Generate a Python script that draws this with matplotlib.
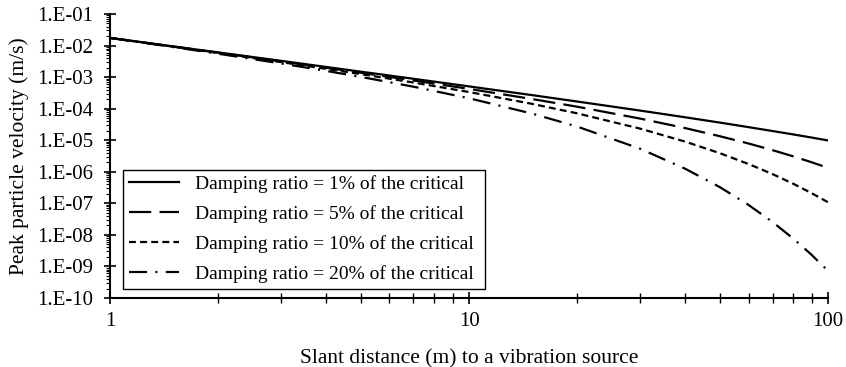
import numpy as np
import matplotlib
matplotlib.use("Agg")
from matplotlib import pyplot as plt
from matplotlib.ticker import FixedLocator, LogLocator, NullFormatter

plt.rcParams['font.family'] = ['Liberation Serif', 'DejaVu Serif']
plt.rcParams['lines.scale_dashes'] = False

# slant distance (m)
distance = [1, 1.5, 2, 3, 4, 5, 7, 10, 15, 20, 30, 40, 50, 60, 70, 80, 90, 100]

# peak particle velocity (m/s)
ppv_1 = [1.74e-2, 9.38e-3, 6.05e-3, 3.26e-3, 2.09e-3, 1.48e-3, 8.83e-4, 5.06e-4, 2.67e-4,
         1.68e-4, 8.65e-5, 5.31e-5, 3.60e-5, 2.59e-5, 1.95e-5, 1.52e-5, 1.21e-5, 9.77e-6]
ppv_5 = [1.74e-2, 9.27e-3, 5.93e-3, 3.13e-3, 1.97e-3, 1.37e-3, 7.82e-4, 4.22e-4, 2.01e-4,
         1.15e-4, 4.81e-5, 2.41e-5, 1.33e-5, 7.85e-6, 4.83e-6, 3.06e-6, 1.99e-6, 1.32e-6]
ppv_10 = [1.74e-2, 9.16e-3, 5.78e-3, 2.97e-3, 1.82e-3, 1.24e-3, 6.71e-4, 3.36e-4, 1.41e-4,
          7.08e-5, 2.31e-5, 8.97e-6, 3.85e-6, 1.76e-6, 8.41e-7, 4.14e-7, 2.08e-7, 1.07e-7]
ppv_20 = [1.74e-2, 8.93e-3, 5.50e-3, 2.69e-3, 1.57e-3, 1.01e-3, 4.95e-4, 2.13e-4, 6.93e-5,
          2.70e-5, 5.31e-6, 1.24e-6, 3.22e-7, 8.87e-8, 2.55e-8, 7.57e-9, 2.30e-9, 7.11e-10]

labels = ['Damping ratio = 1% of the critical',
          'Damping ratio = 5% of the critical',
          'Damping ratio = 10% of the critical',
          'Damping ratio = 20% of the critical']

xticks = [1, 10, 100]
xtick_labels = ['1', '10', '100']
yticks = [1e-10, 1e-9, 1e-8, 1e-7, 1e-6, 1e-5, 1e-4, 1e-3, 1e-2, 1e-1]
ytick_labels = ['1.E-10', '1.E-09', '1.E-08', '1.E-07', '1.E-06',
                '1.E-05', '1.E-04', '1.E-03', '1.E-02', '1.E-01']

fig = plt.figure(figsize=(8.46, 3.67), dpi=100)
ax = fig.add_axes([0.130, 0.188, 0.849, 0.774])

lw = 1.6
ax.plot(distance, ppv_1, color='black', lw=lw, linestyle='-', label=labels[0])
ax.plot(distance, ppv_5, color='black', lw=lw, linestyle=(0, (16, 6)), label=labels[1])
ax.plot(distance, ppv_10, color='black', lw=lw, linestyle=(0, (5, 3)), label=labels[2])
ax.plot(distance, ppv_20, color='black', lw=lw, linestyle=(0, (13, 6, 1.5, 6)), label=labels[3])

ax.set_xscale('log')
ax.set_yscale('log')
ax.set_xlim(1, 100)
ax.set_ylim(1e-10, 1e-1)

ax.xaxis.set_major_locator(FixedLocator(xticks))
ax.set_xticklabels(xtick_labels)
ax.xaxis.set_minor_locator(LogLocator(base=10, subs=np.arange(2, 10)))
ax.xaxis.set_minor_formatter(NullFormatter())
ax.yaxis.set_major_locator(FixedLocator(yticks))
ax.set_yticklabels(ytick_labels)
ax.yaxis.set_minor_locator(LogLocator(base=10, subs=np.arange(2, 10), numticks=20))
ax.yaxis.set_minor_formatter(NullFormatter())

ax.tick_params(axis='x', which='major', direction='inout', length=8, width=1.2, labelsize=15, pad=6)
ax.tick_params(axis='x', which='minor', direction='inout', length=7, width=1.0)
ax.tick_params(axis='y', which='major', direction='inout', length=8, width=1.2, labelsize=15, pad=8)
ax.tick_params(axis='y', which='minor', direction='out', length=3, width=0.8)

for s in ['top', 'right']:
    ax.spines[s].set_visible(False)
for s in ['left', 'bottom']:
    ax.spines[s].set_linewidth(1.5)

ax.set_xlabel('Slant distance (m) to a vibration source', fontsize=15.5, labelpad=13)
ax.set_ylabel('Peak particle velocity (m/s)', fontsize=15.5, labelpad=6)

leg = ax.legend(loc='lower left', bbox_to_anchor=(0.018, 0.032, 0.504, 0.419), mode='expand',
                fontsize=14, handlelength=2.6, labelspacing=0.62, borderpad=0.3, borderaxespad=0,
                fancybox=False, framealpha=1, edgecolor='black')
leg.get_frame().set_linewidth(1.0)

fig.savefig('out.png', dpi=100)
